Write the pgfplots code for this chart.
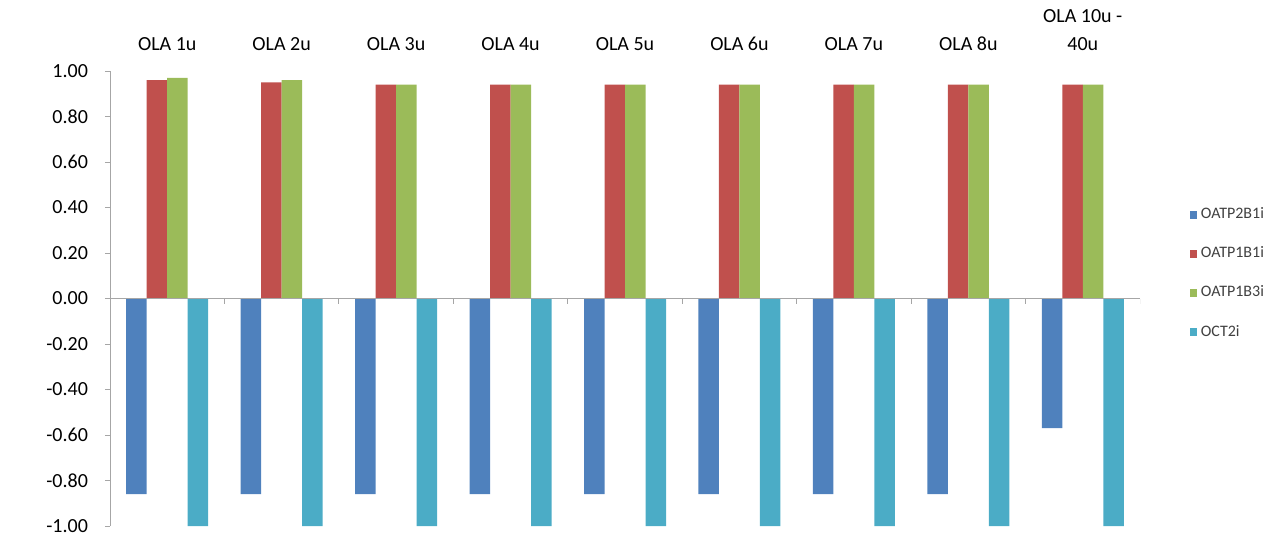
\documentclass[border=0pt]{standalone}
\usepackage{pgfplots}
\pgfplotsset{compat=1.18}
\usepackage{fontspec}
\setmainfont{Carlito}
\definecolor{cblue}{HTML}{4F81BD}
\definecolor{cred}{HTML}{C0504D}
\definecolor{cgreen}{HTML}{9BBB59}
\definecolor{ccyan}{HTML}{4BACC6}
\begin{document}
\begin{tikzpicture}
\begin{axis}[
  at={(0,0)}, anchor=south west,
  scale only axis, width=515pt, height=227.5pt,
  ybar=0pt, bar width=10.25pt,
  xmin=-0.5, xmax=8.5, ymin=-1, ymax=1,
  axis x line*=top, x axis line style={draw=none},
  axis y line*=left, y axis line style={gray!70},
  xtick={0,...,8},
  xticklabels={OLA 1u,OLA 2u,OLA 3u,OLA 4u,OLA 5u,OLA 6u,OLA 7u,OLA 8u,{OLA 10u -\\40u}},
  xtick style={draw=none},
  xticklabel style={align=center, anchor=south, yshift=4pt, font=\fontsize{10}{14}\selectfont},
  ytick={-1,-0.8,-0.6,-0.4,-0.2,0,0.2,0.4,0.6,0.8,1},
  yticklabels={-1.00,-0.80,-0.60,-0.40,-0.20,0.00,0.20,0.40,0.60,0.80,1.00},
  yticklabel style={font=\fontsize{10}{12}\selectfont, xshift=-5pt},
  ytick style={gray!70},
  tick align=outside, major tick length=2.5pt,
  legend style={at={(1.042,0.555)}, anchor=west, draw=none, fill=none,
    font=\fontsize{8}{9}\selectfont, text=black!75, row sep=8.5pt},
  legend cell align=left,
  legend image code/.code={\fill[#1] (0pt,-1.8pt) rectangle (3.6pt,1.8pt);},
]
\addplot[fill=cblue, draw=none] coordinates {(0,-0.86) (1,-0.86) (2,-0.86) (3,-0.86) (4,-0.86) (5,-0.86) (6,-0.86) (7,-0.86) (8,-0.57)};
\addplot[fill=cred, draw=none] coordinates {(0,0.96) (1,0.95) (2,0.94) (3,0.94) (4,0.94) (5,0.94) (6,0.94) (7,0.94) (8,0.94)};
\addplot[fill=cgreen, draw=none] coordinates {(0,0.97) (1,0.96) (2,0.94) (3,0.94) (4,0.94) (5,0.94) (6,0.94) (7,0.94) (8,0.94)};
\addplot[fill=ccyan, draw=none] coordinates {(0,-1) (1,-1) (2,-1) (3,-1) (4,-1) (5,-1) (6,-1) (7,-1) (8,-1)};
\legend{OATP2B1i,OATP1B1i,OATP1B3i,OCT2i}
\draw[gray!70] (axis cs:-0.5,0) -- (axis cs:8.5,0);
\pgfplotsinvokeforeach{0.5,1.5,2.5,3.5,4.5,5.5,6.5,7.5,8.5}{
  \draw[gray!70] (axis cs:#1,0) -- ++(0pt,-2.5pt);
}
\end{axis}
\pgfresetboundingbox
\path[use as bounding box] (-55pt,-6pt) rectangle (585pt,263pt);
\end{tikzpicture}
\end{document}
